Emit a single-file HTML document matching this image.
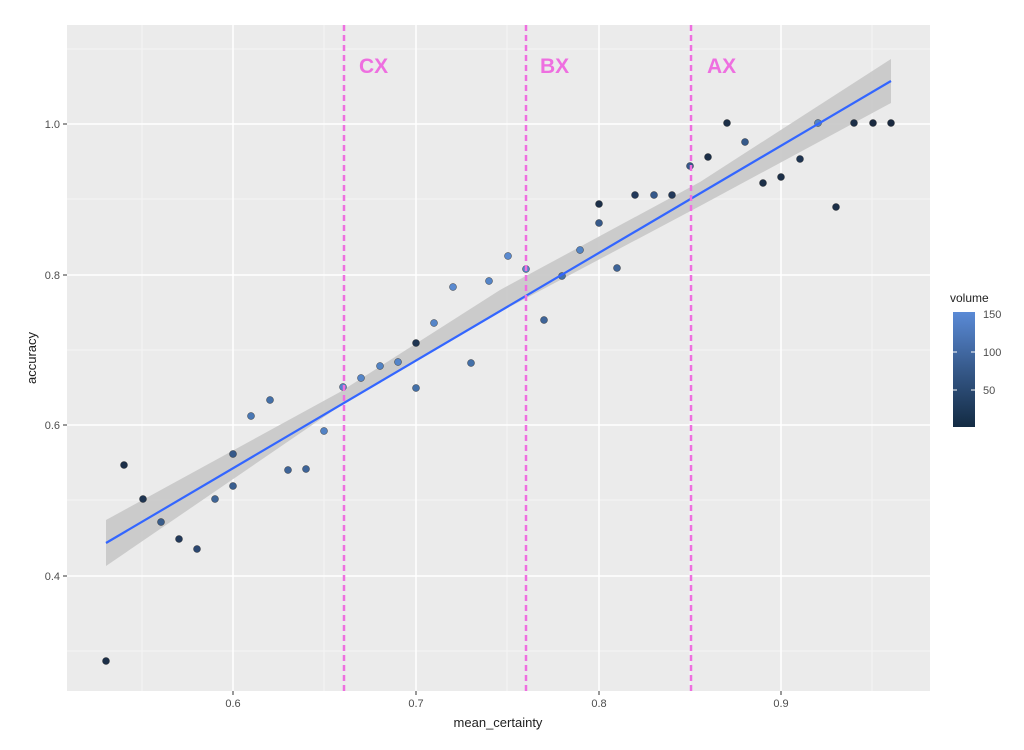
<!DOCTYPE html>
<html><head><style>body{margin:0;background:#fff}svg{display:block;font-family:"Liberation Sans",sans-serif}</style></head><body>
<svg width="1024" height="750" viewBox="0 0 1024 750">
<rect x="67" y="25" width="863" height="666" fill="#ebebeb"/>
<g stroke="#f7f7f7" stroke-width="0.8">
<line x1="142" y1="25" x2="142" y2="691"/><line x1="324" y1="25" x2="324" y2="691"/><line x1="507" y1="25" x2="507" y2="691"/><line x1="690" y1="25" x2="690" y2="691"/><line x1="872" y1="25" x2="872" y2="691"/>
<line x1="67" y1="49" x2="930" y2="49"/><line x1="67" y1="199" x2="930" y2="199"/><line x1="67" y1="350" x2="930" y2="350"/><line x1="67" y1="500" x2="930" y2="500"/><line x1="67" y1="651" x2="930" y2="651"/>
</g>
<g stroke="#fff" stroke-width="1.5">
<line x1="233" y1="25" x2="233" y2="691"/><line x1="416" y1="25" x2="416" y2="691"/><line x1="599" y1="25" x2="599" y2="691"/><line x1="781" y1="25" x2="781" y2="691"/>
<line x1="67" y1="124" x2="930" y2="124"/><line x1="67" y1="275" x2="930" y2="275"/><line x1="67" y1="425" x2="930" y2="425"/><line x1="67" y1="576" x2="930" y2="576"/>
</g>
<g stroke="#333" stroke-width="1">
<line x1="233" y1="691" x2="233" y2="695"/><line x1="416" y1="691" x2="416" y2="695"/><line x1="599" y1="691" x2="599" y2="695"/><line x1="781" y1="691" x2="781" y2="695"/>
<line x1="63" y1="124" x2="67" y2="124"/><line x1="63" y1="275" x2="67" y2="275"/><line x1="63" y1="425" x2="67" y2="425"/><line x1="63" y1="576" x2="67" y2="576"/>
</g>
<g font-size="11" fill="#4d4d4d">
<text x="233" y="707" text-anchor="middle">0.6</text><text x="416" y="707" text-anchor="middle">0.7</text><text x="599" y="707" text-anchor="middle">0.8</text><text x="781" y="707" text-anchor="middle">0.9</text>
<text x="60" y="128" text-anchor="end">1.0</text><text x="60" y="279" text-anchor="end">0.8</text><text x="60" y="429" text-anchor="end">0.6</text><text x="60" y="580" text-anchor="end">0.4</text>
</g>
<text x="498" y="727" text-anchor="middle" font-size="13" fill="#222">mean_certainty</text>
<text transform="translate(36,358) rotate(-90)" text-anchor="middle" font-size="13" fill="#222">accuracy</text>
<path d="M106,520 L340,392 L500,290 L700,182 L891,59 L891,103 L700,206 L500,312 L340,406 L106,566 Z" fill="#c8c8c8" opacity="0.9"/>
<g stroke="#1a1a1a" stroke-width="0.4">
<circle cx="106" cy="661" r="3.5" fill="#1c2f48"/><circle cx="124" cy="465" r="3.5" fill="#1c2f48"/><circle cx="143" cy="499" r="3.5" fill="#1f3552"/><circle cx="161" cy="522" r="3.5" fill="#3a5d8a"/><circle cx="179" cy="539" r="3.5" fill="#22395a"/><circle cx="197" cy="549" r="3.5" fill="#2b4770"/><circle cx="215" cy="499" r="3.5" fill="#3f6596"/><circle cx="233" cy="454" r="3.5" fill="#36598a"/><circle cx="233" cy="486" r="3.5" fill="#3a5f90"/><circle cx="251" cy="416" r="3.5" fill="#4a78b4"/><circle cx="270" cy="400" r="3.5" fill="#4470a8"/><circle cx="288" cy="470" r="3.5" fill="#3e6498"/><circle cx="306" cy="469" r="3.5" fill="#3e6498"/><circle cx="324" cy="431" r="3.5" fill="#5282c4"/><circle cx="343" cy="387" r="3.5" fill="#5585c8"/><circle cx="361" cy="378" r="3.5" fill="#5585c8"/><circle cx="380" cy="366" r="3.5" fill="#5283c4"/><circle cx="398" cy="362" r="3.5" fill="#5585c8"/><circle cx="416" cy="343" r="3.5" fill="#1f3552"/><circle cx="416" cy="388" r="3.5" fill="#4470a8"/><circle cx="434" cy="323" r="3.5" fill="#5585c8"/><circle cx="453" cy="287" r="3.5" fill="#5a8ad0"/><circle cx="471" cy="363" r="3.5" fill="#4470a8"/><circle cx="489" cy="281" r="3.5" fill="#5585c8"/><circle cx="508" cy="256" r="3.5" fill="#5a8ad0"/><circle cx="526" cy="269" r="3.5" fill="#5585c8"/><circle cx="544" cy="320" r="3.5" fill="#3e6498"/><circle cx="562" cy="276" r="3.5" fill="#4470a8"/><circle cx="580" cy="250" r="3.5" fill="#5283c4"/><circle cx="599" cy="204" r="3.5" fill="#1c2f48"/><circle cx="599" cy="223" r="3.5" fill="#36598a"/><circle cx="617" cy="268" r="3.5" fill="#3e6498"/><circle cx="635" cy="195" r="3.5" fill="#22395a"/><circle cx="654" cy="195" r="3.5" fill="#36598a"/><circle cx="672" cy="195" r="3.5" fill="#22395a"/><circle cx="690" cy="166" r="3.5" fill="#36598a"/><circle cx="708" cy="157" r="3.5" fill="#1c2f48"/><circle cx="727" cy="123" r="3.5" fill="#1c2f48"/><circle cx="745" cy="142" r="3.5" fill="#36598a"/><circle cx="763" cy="183" r="3.5" fill="#1c2f48"/><circle cx="781" cy="177" r="3.5" fill="#1c2f48"/><circle cx="800" cy="159" r="3.5" fill="#1f3552"/><circle cx="818" cy="123" r="3.5" fill="#5283c4"/><circle cx="836" cy="207" r="3.5" fill="#1c2f48"/><circle cx="854" cy="123" r="3.5" fill="#1c2f48"/><circle cx="873" cy="123" r="3.5" fill="#1a2a40"/><circle cx="891" cy="123" r="3.5" fill="#1a2a40"/>
</g>
<line x1="106" y1="543" x2="891" y2="81" stroke="#3366ff" stroke-width="2.2"/>
<g stroke="#ee6fe0" stroke-width="2.5" stroke-dasharray="6,4">
<line x1="344" y1="25" x2="344" y2="691"/><line x1="526" y1="25" x2="526" y2="691"/><line x1="691" y1="25" x2="691" y2="691"/>
</g>
<g font-size="21" font-weight="bold" fill="#ee6fe0">
<text x="359" y="73">CX</text><text x="540" y="73">BX</text><text x="707" y="73">AX</text>
</g>
<defs><linearGradient id="g" x1="0" y1="1" x2="0" y2="0"><stop offset="0" stop-color="#132b43"/><stop offset="0.5" stop-color="#36598a"/><stop offset="1" stop-color="#5a8ad6"/></linearGradient></defs>
<text x="950" y="302" font-size="12" fill="#222">volume</text>
<rect x="953" y="312" width="22" height="115" fill="url(#g)"/>
<g stroke="#fff" stroke-width="1"><line x1="953" y1="352" x2="957" y2="352"/><line x1="971" y1="352" x2="975" y2="352"/><line x1="953" y1="390" x2="957" y2="390"/><line x1="971" y1="390" x2="975" y2="390"/></g>
<g font-size="11" fill="#4d4d4d"><text x="983" y="318">150</text><text x="983" y="356">100</text><text x="983" y="394">50</text></g>
</svg>
</body></html>
